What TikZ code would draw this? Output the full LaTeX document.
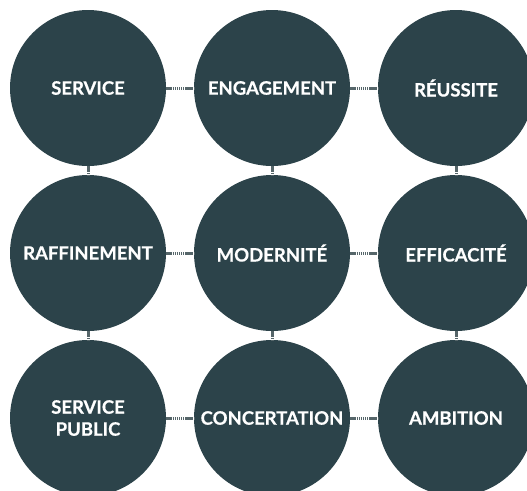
\documentclass[tikz,border=0pt]{standalone}
\usepackage{fontspec}
\setmainfont{Lato}[BoldFeatures={FakeBold=0.6}]
\definecolor{petrol}{HTML}{2C434A}
\definecolor{linkgray}{HTML}{56666A}
\tikzset{
    value/.style={circle, fill=petrol, minimum size=156pt, inner sep=0pt, text=white, font=\fontsize{18.5}{22}\selectfont\bfseries, align=center},
    link/.style={draw=linkgray, line width=3pt, dash pattern=on 1.4pt off 0.7pt}
}
\begin{document}
\begin{tikzpicture}[x=1pt, y=1pt, node distance=184pt]
    \useasboundingbox (0,0) rectangle (527,-490);
    \node (service) [value] at (88,-88) {SERVICE};
    \node (engagement) [value, right of=service] {ENGAGEMENT};
    \node (reussite) [value, right of=engagement] {RÉUSSITE};
    \node (raffinement) [value, below of=service, yshift=19pt] {RAFFINEMENT};
    \node (modernite) [value, right of=raffinement] {MODERNITÉ};
    \node (efficacite) [value, right of=modernite] {EFFICACITÉ};
    \node (public) [value, below of=raffinement, yshift=19pt] {SERVICE\\PUBLIC};
    \node (concertation) [value, right of=public] {CONCERTATION};
    \node (ambition) [value, right of=concertation] {AMBITION};

    \draw [link] (service) -- (engagement);
    \draw [link] (engagement) -- (reussite);
    \draw [link] (raffinement) -- (modernite);
    \draw [link] (modernite) -- (efficacite);
    \draw [link] (public) -- (concertation);
    \draw [link] (concertation) -- (ambition);
    \draw [link] (service) -- (raffinement);
    \draw [link] (raffinement) -- (public);
    \draw [link] (engagement) -- (modernite);
    \draw [link] (modernite) -- (concertation);
    \draw [link] (reussite) -- (efficacite);
    \draw [link] (efficacite) -- (ambition);
\end{tikzpicture}
\end{document}
